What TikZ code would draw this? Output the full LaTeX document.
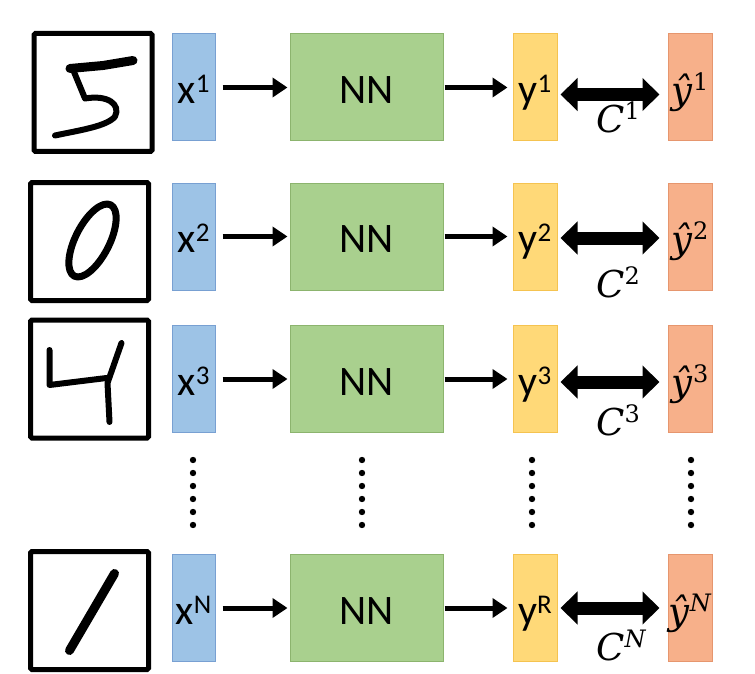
\documentclass[tikz,border=0pt]{standalone}
\usepackage{fontspec}
\usetikzlibrary{arrows.meta}
\newfontfamily\calib{Carlito}
\newfontfamily\cambr{DejaVu Serif}
\newcommand{\lblsup}[1]{\raisebox{11pt}{\fontsize{27}{27}\selectfont #1}}
\newcommand{\hatsup}[1]{\raisebox{13pt}{\fontsize{24}{24}\selectfont #1}}
\newcommand{\lblfont}{\calib\fontsize{42}{42}\selectfont}
\newcommand{\mathlbl}{\cambr\fontsize{37}{37}\selectfont}
\definecolor{xfill}{RGB}{157,195,230}
\definecolor{xline}{RGB}{120,160,210}
\definecolor{nnfill}{RGB}{169,208,142}
\definecolor{nnline}{RGB}{140,180,110}
\definecolor{yfill}{RGB}{255,217,120}
\definecolor{yline}{RGB}{245,195,80}
\definecolor{hfill}{RGB}{247,176,138}
\definecolor{hline}{RGB}{230,150,110}

\begin{document}
\begin{tikzpicture}[x=1pt,y=-1pt]
\tikzstyle{every node}+=[inner sep=0pt]
\tikzstyle{imgbox}=[draw=black,line width=5pt,rounded corners=1.5pt,minimum width=118pt,minimum height=118pt]
\tikzstyle{colbox}=[line width=1pt,minimum height=107pt,text height=32pt,text depth=0pt]
\tikzstyle{xbox}=[colbox,draw=xline,fill=xfill,minimum width=43pt,font=\lblfont]
\tikzstyle{nnbox}=[colbox,draw=nnline,fill=nnfill,minimum width=153pt,font=\lblfont]
\tikzstyle{ybox}=[colbox,draw=yline,fill=yfill,minimum width=44pt,font=\lblfont]
\tikzstyle{hbox}=[colbox,draw=hline,fill=hfill,minimum width=44pt,font=\mathlbl]
\tikzstyle{clbl}=[anchor=west,text height=26pt,text depth=0pt,font=\mathlbl]
\tikzstyle{arr}=[line width=5pt,-{Triangle[length=15pt,width=19pt]}]
\tikzstyle{dbl}=[line width=13pt,{Triangle[length=17pt,width=32pt]}-{Triangle[length=17pt,width=32pt]}]
\tikzstyle{digit}=[line width=7pt,line cap=round,line join=round]
\useasboundingbox (0,0) rectangle (755,674);
\fill[white] (0,0) rectangle (755,674);

\node[imgbox] (img1) at (93,92.5) {};
\node[xbox] (x1) at (193.5,87.5) {x\lblsup{1}};
\node[nnbox] (nn1) at (366.5,87.5) {NN};
\node[ybox] (y1) at (535,87.5) {y\lblsup{1}};
\node[hbox] (h1) at (690,87.5) {\textit{ŷ}\hatsup{1}};
\node[clbl] (c1) at (596,119) {\textit{C}\hatsup{1}};
\draw[arr] ([xshift=7pt]x1.east) -- ([xshift=-2pt]nn1.west);
\draw[arr] ([xshift=1pt]nn1.east) -- ([xshift=-5pt]y1.west);
\draw[dbl] ([xshift=3pt,yshift=-7pt]y1.east) -- ([xshift=-8pt,yshift=-7pt]h1.west);

\node[imgbox] (img2) at (89.5,241.5) {};
\node[xbox] (x2) at (193.5,236.5) {x\lblsup{2}};
\node[nnbox] (nn2) at (366.5,236.5) {NN};
\node[ybox] (y2) at (535,236.5) {y\lblsup{2}};
\node[hbox] (h2) at (690,236.5) {\textit{ŷ}\hatsup{2}};
\node[clbl] (c2) at (596,284) {\textit{C}\hatsup{2}};
\draw[arr] ([xshift=7pt]x2.east) -- ([xshift=-2pt]nn2.west);
\draw[arr] ([xshift=1pt]nn2.east) -- ([xshift=-5pt]y2.west);
\draw[dbl] ([xshift=3pt,yshift=-1.5pt]y2.east) -- ([xshift=-8pt,yshift=-1.5pt]h2.west);

\node[imgbox] (img3) at (89.5,379) {};
\node[xbox] (x3) at (193.5,379) {x\lblsup{3}};
\node[nnbox] (nn3) at (366.5,379) {NN};
\node[ybox] (y3) at (535,379) {y\lblsup{3}};
\node[hbox] (h3) at (690,379) {\textit{ŷ}\hatsup{3}};
\node[clbl] (c3) at (596,422) {\textit{C}\hatsup{3}};
\draw[arr] ([xshift=7pt]x3.east) -- ([xshift=-2pt]nn3.west);
\draw[arr] ([xshift=1pt]nn3.east) -- ([xshift=-5pt]y3.west);
\draw[dbl] ([xshift=3pt,yshift=-3pt]y3.east) -- ([xshift=-8pt,yshift=-3pt]h3.west);

\node[imgbox] (imgN) at (89.5,610.5) {};
\node[xbox] (xN) at (193.5,608) {x\lblsup{N}};
\node[nnbox] (nnN) at (366.5,608) {NN};
\node[ybox] (yN) at (535,608) {y\lblsup{R}};
\node[hbox] (hN) at (690,608) {\textit{ŷ}\hatsup{\textit{N}}};
\node[clbl] (cN) at (596,647) {\textit{C}\hatsup{\textit{N}}};
\draw[arr] ([xshift=7pt]xN.east) -- ([xshift=-2pt]nnN.west);
\draw[arr] ([xshift=1pt]nnN.east) -- ([xshift=-5pt]yN.west);
\draw[dbl] ([xshift=3pt]yN.east) -- ([xshift=-8pt]hN.west);

\begin{scope}[shift={(img1.center)}]
\draw[digit,line width=9pt] (-23,-24) -- (10,-27) -- (40,-32);
\draw[digit,line width=6pt] (-20,-23) -- (-8,6) .. controls (15,2) and (28,12) .. (22,24) .. controls (14,34) and (-15,38) .. (-38,43);
\end{scope}
\begin{scope}[shift={(img2.center)}]
\draw[digit,rotate around={63:(3,-1)}] (3,-1) ellipse [x radius=40,y radius=17];
\end{scope}
\begin{scope}[shift={(img3.center)}]
\draw[digit,line width=6pt] (-40,-29) -- (-40,6) -- (17,-1);
\draw[digit,line width=6pt] (32,-36) -- (18,4) -- (20,43);
\end{scope}
\begin{scope}[shift={(imgN.center)}]
\draw[digit,line width=9pt] (25,-37) -- (-20,40);
\end{scope}

\foreach \c in {193,362,532,691}
  \foreach \k in {0,...,5}
    \fill (\c,460+13*\k) circle (3.2);
\end{tikzpicture}
\end{document}
